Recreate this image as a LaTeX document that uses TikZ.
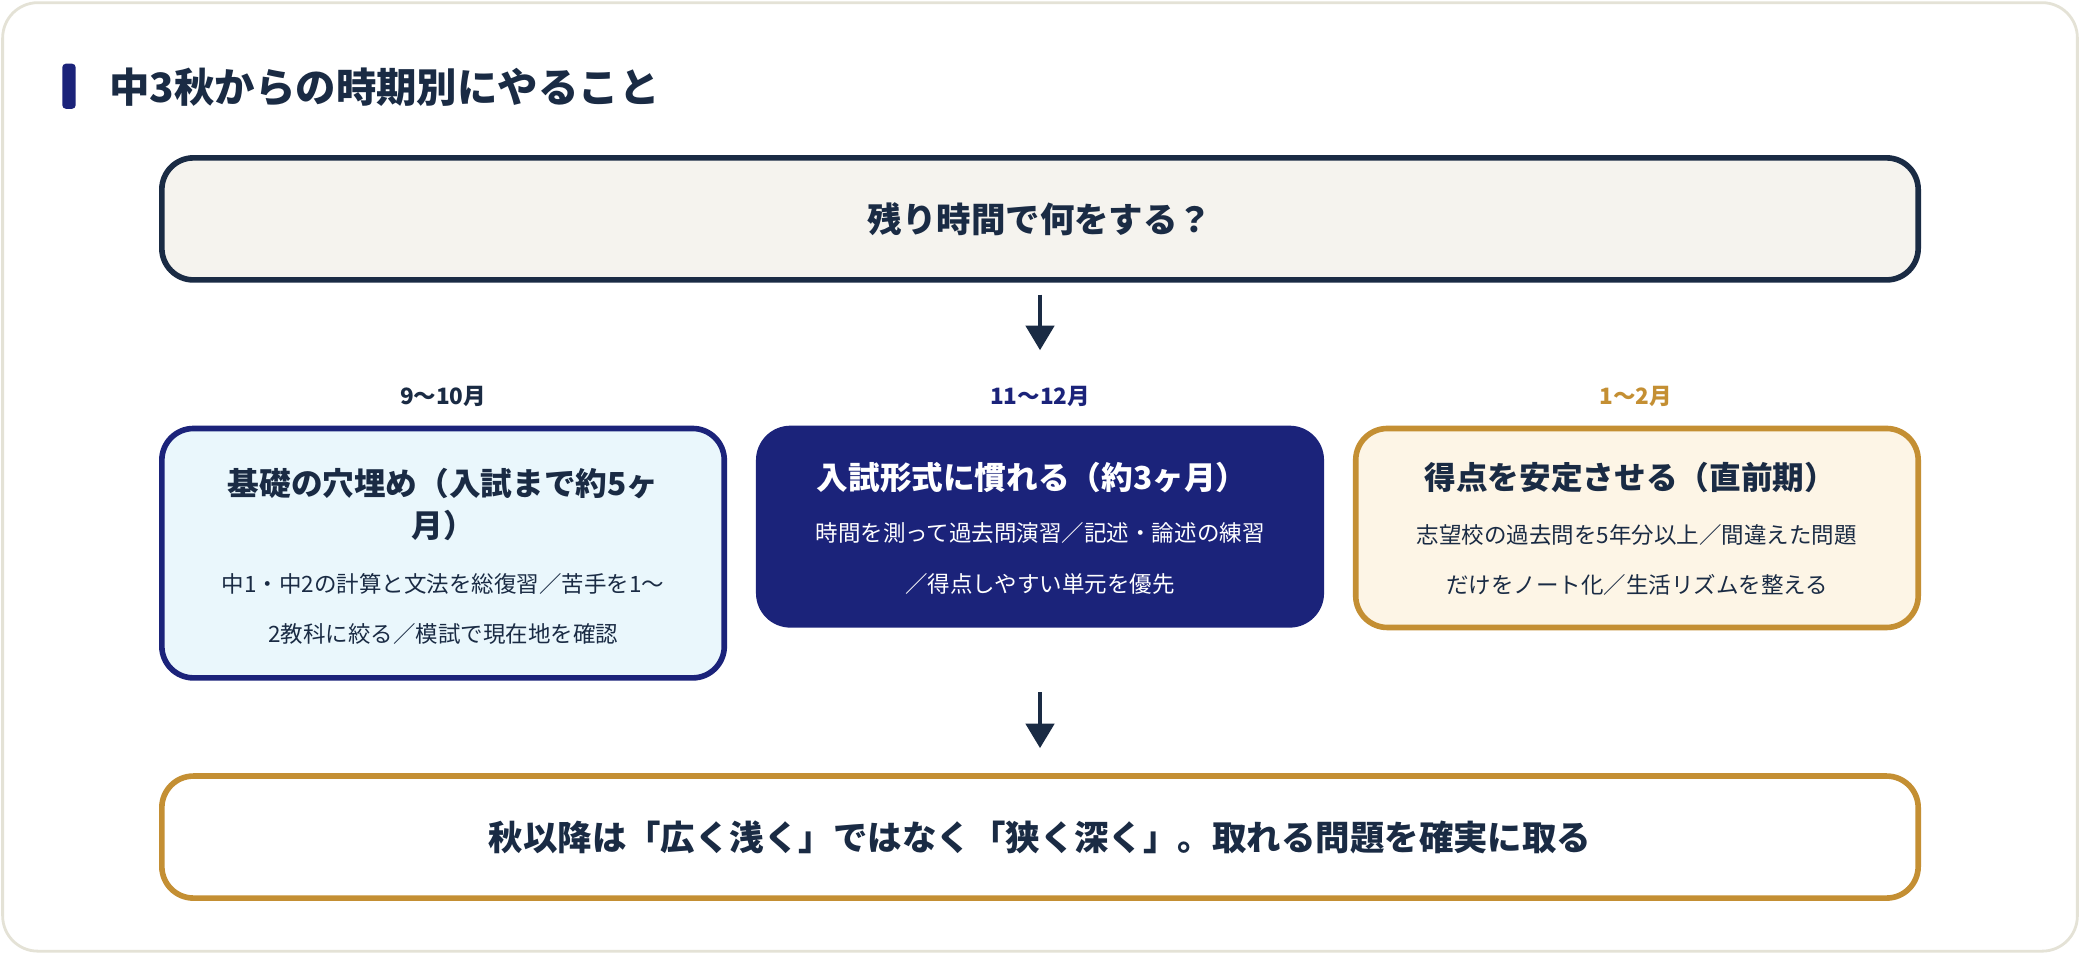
\documentclass[tikz,border=0pt]{standalone}
\usepackage{fontspec}
\setmainfont{Noto Sans CJK JP}
\usetikzlibrary{positioning,arrows.meta}
\definecolor{ink}{HTML}{1A2B44}
\definecolor{navy}{HTML}{1B237A}
\definecolor{gold}{HTML}{C48F33}
\definecolor{paper}{HTML}{F5F3EE}
\definecolor{sky}{HTML}{EAF7FC}
\definecolor{cream}{HTML}{FDF5E6}
\definecolor{frame}{HTML}{E4E2D6}
\tikzset{
  box/.style={rounded corners=9pt, line width=1.6pt, inner sep=0pt},
  head/.style={font=\bfseries\fontsize{9}{12}\selectfont, align=center},
  body/.style={font=\fontsize{6.4}{14.3}\selectfont, align=center},
  term/.style={font=\bfseries\fontsize{6.4}{8}\selectfont},
  arr/.style={-{Triangle[length=7pt,width=8pt]}, line width=1.3pt, draw=ink}
}
\begin{document}
\begin{tikzpicture}[x=0.013265cm, y=-0.013265cm]
    \useasboundingbox (0,0) rectangle (1568,719);
    % 枠
    \draw[frame, fill=white, rounded corners=10pt, line width=0.8pt] (2,2) rectangle (1566,717);
    \fill[navy, rounded corners=1pt] (47,48) rectangle (57,82);
    \node[anchor=west, text=ink, font=\bfseries\fontsize{11.5}{14}\selectfont] (title) at (73,66) {中3秋からの時期別にやること};

    % 上
    \node[box, draw=ink, fill=paper, minimum width=1324*0.013265cm, minimum height=92*0.013265cm,
      text=ink, font=\bfseries\fontsize{9.8}{12}\selectfont] (top) at (784,165) {残り時間で何をする？};

    % 時期
    \node[term, text=ink] (t1) at (334,299) {9〜10月};
    \node[term, text=navy] (t2) at (784,299) {11〜12月};
    \node[term, text=gold] (t3) at (1233,299) {1〜2月};

    % 三つの箱
    \node[box, draw=navy, fill=sky, minimum width=424*0.013265cm, minimum height=188*0.013265cm] (b1) at (334,417) {};
    \node[box, draw=navy, fill=navy, minimum width=424*0.013265cm, minimum height=148*0.013265cm] (b2) at (784,397) {};
    \node[box, draw=gold, fill=cream, minimum width=424*0.013265cm, minimum height=150*0.013265cm] (b3) at (1234,398) {};

    \node[head, text=ink] (h1) at (334,380) {基礎の穴埋め（入試まで約5ヶ\\月）};
    \node[body, text=ink] (s1) at (334,459) {中1・中2の計算と文法を総復習／苦手を1〜\\2教科に絞る／模試で現在地を確認};
    \node[head, text=white] (h2) at (778,360) {入試形式に慣れる（約3ヶ月）};
    \node[body, text=white] (s2) at (784,421) {時間を測って過去問演習／記述・論述の練習\\／得点しやすい単元を優先};
    \node[head, text=ink] (h3) at (1229,360) {得点を安定させる（直前期）};
    \node[body, text=ink] (s3) at (1234,422) {志望校の過去問を5年分以上／間違えた問題\\だけをノート化／生活リズムを整える};

    % 下
    \node[box, draw=gold, fill=white, minimum width=1324*0.013265cm, minimum height=92*0.013265cm,
      text=ink, font=\bfseries\fontsize{9.8}{12}\selectfont] (bottom) at (784,631) {秋以降は「広く浅く」ではなく「狭く深く」。取れる問題を確実に取る};

    % 矢印
    \coordinate (a1) at (784,222);
    \coordinate (a2) at (784,264);
    \coordinate (a3) at (784,522);
    \coordinate (a4) at (784,564);
    \draw[arr] (a1) -- (a2);
    \draw[arr] (a3) -- (a4);
\end{tikzpicture}
\end{document}
